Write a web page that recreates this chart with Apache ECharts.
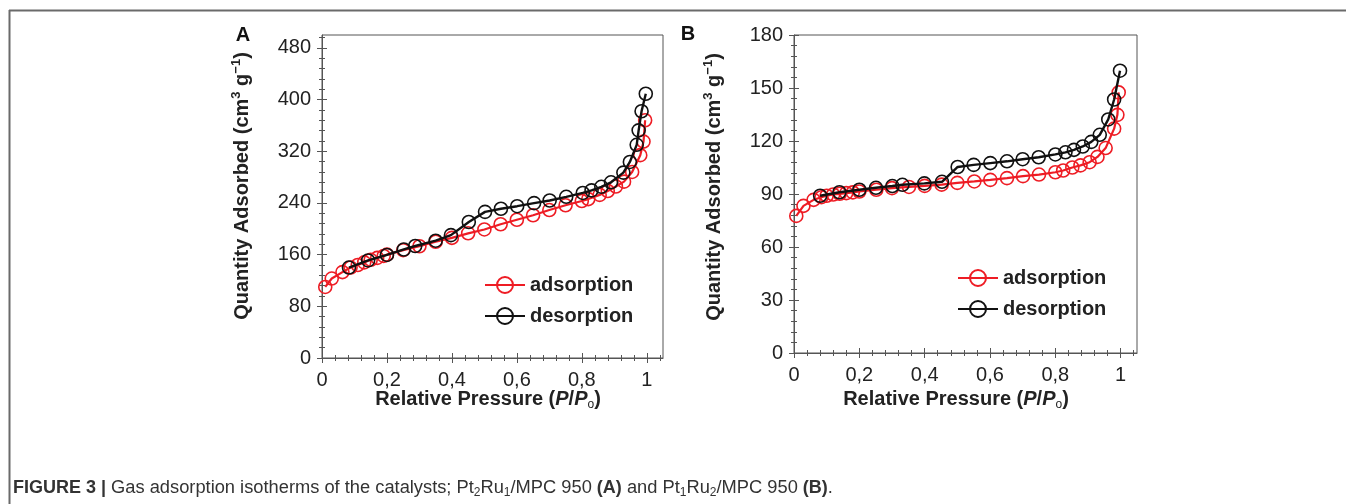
<!DOCTYPE html>
<html><head><meta charset="utf-8">
<script src="https://cdn.jsdelivr.net/npm/echarts@6/dist/echarts.min.js"></script>
<style>html,body{margin:0;padding:0;background:#fff}#c{width:1346px;height:504px}</style>
</head><body><div id="c"></div>
<script>
// ---- data ----
const seriesNames = ['adsorption', 'desorption'];
const xTicks = [0, 0.2, 0.4, 0.6, 0.8, 1];
const yTicksA = [0, 80, 160, 240, 320, 400, 480];
const yTicksB = [0, 30, 60, 90, 120, 150, 180];
const adsorptionA = [[0.01,110],[0.03,123],[0.063,133],[0.088,140],[0.11,144],[0.13,148],[0.15,152],[0.17,155],[0.19,158],[0.20,160],[0.25,167],[0.30,173],[0.35,180],[0.40,186],[0.45,193],[0.50,199],[0.55,207],[0.60,214],[0.65,221],[0.70,229],[0.75,236.5],[0.80,243],[0.82,246],[0.855,252.5],[0.88,258.5],[0.905,265.5],[0.93,273],[0.955,288],[0.98,314],[0.99,335],[0.995,368]];
const desorptionA = [[0.083,140],[0.142,151],[0.20,159.5],[0.252,168],[0.287,173.4],[0.35,181.6],[0.397,190.2],[0.452,210.5],[0.502,226.2],[0.551,231],[0.601,235],[0.653,239.7],[0.701,243.8],[0.752,249.5],[0.803,255.5],[0.83,259.5],[0.86,265],[0.89,272],[0.928,287],[0.948,303.5],[0.969,330],[0.975,352.4],[0.984,382],[0.997,409]];
const adsorptionB = [[0.007,77.6],[0.029,83.3],[0.06,86.7],[0.084,88.2],[0.10,89],[0.12,89.7],[0.14,90.1],[0.16,90.5],[0.18,90.9],[0.20,91.4],[0.252,92.4],[0.30,93.3],[0.352,94],[0.40,94.6],[0.452,95.3],[0.50,96.3],[0.552,97.1],[0.601,98],[0.652,99],[0.701,100.1],[0.75,101],[0.80,102.3],[0.824,103.3],[0.852,105],[0.877,106.2],[0.905,108],[0.929,111],[0.954,116],[0.98,127],[0.99,134.8],[0.994,147.5]];
const desorptionB = [[0.08,89],[0.139,91],[0.20,92.4],[0.251,93.5],[0.301,94.5],[0.332,95.2],[0.399,96],[0.453,96.9],[0.501,105.3],[0.55,106.5],[0.601,107.5],[0.652,108.5],[0.70,109.7],[0.749,110.8],[0.80,112.4],[0.831,113.6],[0.857,115],[0.884,116.9],[0.91,119.5],[0.936,123.5],[0.962,132.2],[0.98,143.5],[0.998,159.8]];

// ---- helpers ----
const RED = '#ee1c24', BLACK = '#111111', AXC = '#555555';
const FONT = 'Liberation Sans, Arial, sans-serif';
function minors(ticks, n) {
  const out = [];
  for (let i = 0; i < ticks.length - 1; i++) {
    const step = (ticks[i + 1] - ticks[i]) / n;
    for (let k = 1; k < n; k++) out.push(+(ticks[i] + k * step).toFixed(6));
  }
  return out;
}
function withTail(ticks, n) {
  const step = (ticks[1] - ticks[0]) / n;
  const arr = minors(ticks, n);
  arr.push(+(ticks[ticks.length - 1] + step).toFixed(6));
  return arr;
}
const fmtX = v => String(+v.toFixed(2)).replace('.', ',');

const grids = [
  {left: 322, top: 35, width: 341, height: 323, ymax: 500, yTicks: yTicksA, ads: adsorptionA, des: desorptionA},
  {left: 794, top: 35, width: 343, height: 318, ymax: 180, yTicks: yTicksB, ads: adsorptionB, des: desorptionB}
];

const option = {
  animation: false,
  backgroundColor: '#ffffff',
  grid: grids.map(g => ({left: g.left, top: g.top, width: g.width, height: g.height, show: true, borderColor: AXC, borderWidth: 1, backgroundColor: 'transparent', containLabel: false})),
  xAxis: [], yAxis: [], series: [], legend: [], graphic: []
};

grids.forEach((g, gi) => {
  const bx = {gridIndex: gi, type: 'value', min: 0, max: 1.05, position: 'bottom', splitLine: {show: false}};
  const by = {gridIndex: gi, type: 'value', min: 0, max: g.ymax, position: 'left', splitLine: {show: false}};
  const tickOnly = (len, vals, off) => ({offset: off,
    axisLine: {show: false, onZero: false}, axisLabel: {show: false},
    axisTick: {show: true, inside: false, length: len, customValues: vals, lineStyle: {color: AXC, width: 1}}});
  option.xAxis.push(Object.assign({}, bx, {
    axisLine: {show: true, onZero: false, lineStyle: {color: AXC, width: 1}}, axisTick: {show: false},
    axisLabel: {customValues: xTicks, formatter: fmtX, fontSize: 20, fontFamily: FONT, color: '#222', margin: 12}}));
  option.xAxis.push(Object.assign({}, bx, tickOnly(10, xTicks, -5)));
  option.xAxis.push(Object.assign({}, bx, tickOnly(6, withTail(xTicks, 5), -3)));
  const yMin = gi === 0 ? minors(g.yTicks, 5).concat([496]) : minors(g.yTicks, 5);
  option.yAxis.push(Object.assign({}, by, {
    axisLine: {show: true, onZero: false, lineStyle: {color: AXC, width: 1}}, axisTick: {show: false},
    axisLabel: {customValues: g.yTicks, fontSize: 20, fontFamily: FONT, color: '#222', margin: 11}}));
  option.yAxis.push(Object.assign({}, by, tickOnly(10, g.yTicks, -5)));
  option.yAxis.push(Object.assign({}, by, tickOnly(6, yMin, -3)));

  const mk = (name, data, color, lw, z) => ({
    type: 'line', name, data, xAxisIndex: gi * 3, yAxisIndex: gi * 3, z,
    symbol: 'circle', symbolSize: 13, showAllSymbol: true,
    itemStyle: {color: 'rgba(255,255,255,0)', borderColor: color, borderWidth: 1.6},
    lineStyle: {color, width: lw}, emphasis: {disabled: true}
  });
  option.series.push(mk(seriesNames[0], g.ads, RED, 2.2, 2));
  option.series.push(mk(seriesNames[1], g.des, BLACK, 2.4, 3));
});

option.legend = [
  {left: 484, top: 274},
  {left: 957, top: 267}
].map(p => ({
  left: p.left, top: p.top, orient: 'vertical', padding: 0, itemGap: 9,
  itemWidth: 40, itemHeight: 20, data: seriesNames, selectedMode: false,
  textStyle: {fontSize: 20, fontWeight: 'bold', fontFamily: FONT, color: '#222', lineHeight: 22}
}));

const titleRich = {
  t: {fontSize: 20, fontWeight: 'bold', fontFamily: FONT, fill: '#222', lineHeight: 24},
  sup: {fontSize: 13, fontWeight: 'bold', fontFamily: FONT, fill: '#222', verticalAlign: 'top', lineHeight: 24},
  bi: {fontSize: 20, fontWeight: 'bold', fontStyle: 'italic', fontFamily: FONT, fill: '#222', lineHeight: 24},
  sub: {fontSize: 12, fontFamily: FONT, fill: '#222', verticalAlign: 'bottom', lineHeight: 24}
};
const yTitle = '{t|Quantity Adsorbed (cm}{sup|3}{t| g}{sup|−1}{t|)}';
const xTitle = '{t|Relative Pressure (}{bi|P}{t|/}{bi|P}{sub|o}{t|)}';
function txt(x, y, text, rot, rich) {
  return {type: 'text', x, y, rotation: rot || 0, silent: true,
    style: {text, rich, align: 'center', verticalAlign: 'middle'}};
}
option.graphic = [
  {type: 'line', silent: true, shape: {x1: 9, y1: 10.5, x2: 1346, y2: 10.5}, style: {stroke: '#6a6a6a', lineWidth: 2}},
  {type: 'line', silent: true, shape: {x1: 9.5, y1: 10, x2: 9.5, y2: 504}, style: {stroke: '#6a6a6a', lineWidth: 2}},
  txt(242, 186, yTitle, Math.PI / 2, titleRich),
  txt(714, 187, yTitle, Math.PI / 2, titleRich),
  txt(488, 399, xTitle, 0, titleRich),
  txt(956, 399, xTitle, 0, titleRich),
  {type: 'text', x: 243, y: 35, silent: true, style: {text: 'A', font: 'bold 20px ' + FONT, fill: '#111', align: 'center', verticalAlign: 'middle'}},
  {type: 'text', x: 688, y: 34, silent: true, style: {text: 'B', font: 'bold 20px ' + FONT, fill: '#111', align: 'center', verticalAlign: 'middle'}},
  {type: 'text', x: 13, y: 488, silent: true, style: {
    text: '{b|FIGURE 3 | }{r|Gas adsorption isotherms of the catalysts; Pt}{s|2}{r|Ru}{s|1}{r|/MPC 950 }{b|(A)}{r| and Pt}{s|1}{r|Ru}{s|2}{r|/MPC 950 }{b|(B)}{r|.}',
    align: 'left', verticalAlign: 'middle',
    rich: {
      b: {fontSize: 18, fontWeight: 'bold', fontFamily: FONT, fill: '#333', lineHeight: 22},
      r: {fontSize: 18.3, fontFamily: FONT, fill: '#333', lineHeight: 22},
      s: {fontSize: 12, fontFamily: FONT, fill: '#333', lineHeight: 22, verticalAlign: 'bottom'}
    }}}
];

const chart = echarts.init(document.getElementById('c'), null, {renderer: 'canvas'});
chart.setOption(option);
</script>
</body></html>
